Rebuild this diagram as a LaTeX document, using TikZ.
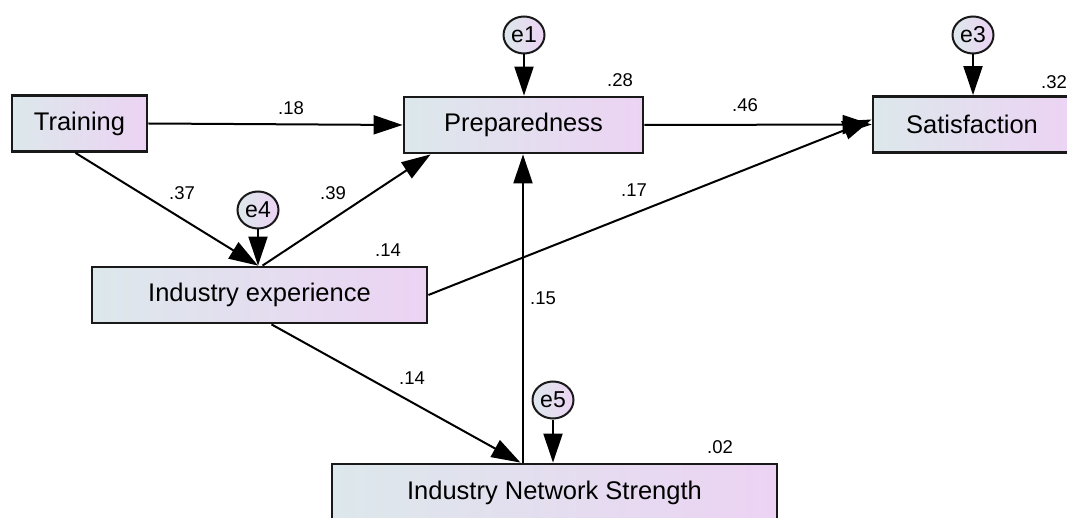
\documentclass[tikz,border=0pt]{standalone}
\usepackage{fontspec}
\setmainfont{Liberation Sans}
\usetikzlibrary{arrows.meta,shapes.geometric}
\definecolor{boxleft}{RGB}{220,232,235}
\definecolor{boxright}{RGB}{236,211,244}
\definecolor{edgegray}{RGB}{25,25,25}
\begin{document}
\begin{tikzpicture}[x=1pt,y=-1pt,
  observed/.style={draw=edgegray, line width=2.8pt, left color=boxleft, right color=boxright,
    inner sep=0pt, minimum height=56pt, font=\fontsize{25.5}{30}\selectfont},
  errvar/.style={ellipse, draw=edgegray, line width=2pt, left color=boxleft, right color=boxright,
    inner sep=0pt, minimum width=41pt, minimum height=37pt, font=\fontsize{23}{26}\selectfont},
  causal/.style={draw=black, line width=2pt, -{Triangle[length=29pt,width=19pt]}},
  coef/.style={font=\fontsize{18.5}{22}\selectfont, inner sep=0pt}]
\useasboundingbox (0,0) rectangle (1067,518);
\clip (0,0) rectangle (1067,518);

% observed variables
\node[observed, minimum width=135pt] (tr)  at (79.5,123.5) {Training};
\node[observed, minimum width=239pt] (pr)  at (523.5,125)  {Preparedness};
\node[observed, minimum width=198pt] (sat) at (972,124.5)  {Satisfaction};
\node[observed, minimum width=335pt] (ie)  at (259.5,295)  {Industry experience};
\node[observed, minimum width=445pt, minimum height=57pt] (ins) at (554.5,492.5) {Industry Network Strength};

% error terms
\node[errvar] (e1) at (524,35)  {e1};
\node[errvar] (e3) at (973,35)  {e3};
\node[errvar] (e4) at (258,210) {e4};
\node[errvar] (e5) at (553,400) {e5};

% error paths
\draw[causal] (e1.south) -- (e1.south |- pr.north);
\draw[causal] (e3.south) -- (e3.south |- sat.north);
\draw[causal] (e4.south) -- (e4.south |- ie.north);
\draw[causal] (e5.south) -- (e5.south |- ins.north);

% structural paths
\draw[causal] (tr.east) -- (pr.west);
\draw[causal] (pr.east) -- (sat.west);
\draw[causal] (ie.east) -- ([yshift=5pt]sat.west);
\draw[causal] ([xshift=-4pt]tr.south) -- ([xshift=-1.5pt]ie.north);
\draw[causal] ([xshift=3pt]ie.north) -- ([xshift=28pt]pr.south west);
\draw[causal] ([xshift=12pt]ie.south) -- ([xshift=-34pt]ins.north);
\draw[causal] ([xshift=-31.5pt]ins.north) -- ([xshift=-0.5pt]pr.south);

% standardized coefficients
\node[coef] (c18) at (291,108) {.18};
\node[coef] (c46) at (745,105) {.46};
\node[coef] (c37) at (182,193) {.37};
\node[coef] (c39) at (333,193) {.39};
\node[coef] (c17) at (634,190) {.17};
\node[coef] (c15) at (543,298) {.15};
\node[coef] (c14b) at (412,378) {.14};

% squared multiple correlations
\node[coef] (r28) at (620,80)  {.28};
\node[coef] (r32) at (1054,82) {.32};
\node[coef] (r14) at (388,250) {.14};
\node[coef] (r02) at (720,447) {.02};
\end{tikzpicture}
\end{document}
